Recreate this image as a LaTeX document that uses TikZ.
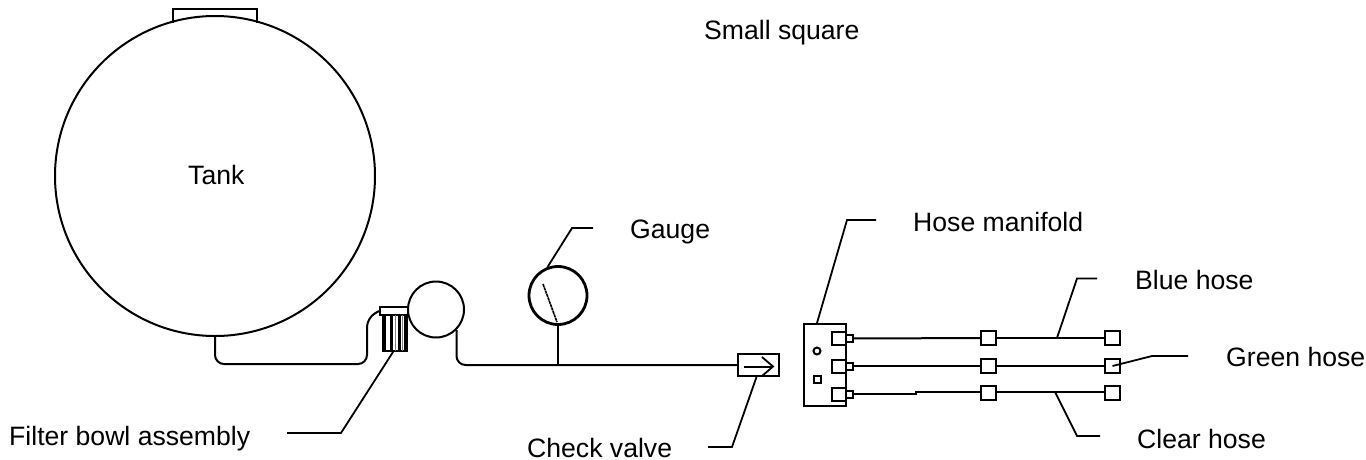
\documentclass[tikz,border=0pt]{standalone}
\usepackage{fontspec}
\setmainfont{Liberation Sans}
\usetikzlibrary{positioning,calc}

\begin{document}
\begin{tikzpicture}[x=1pt,y=-1pt,font=\fontsize{26.6}{30}\selectfont,
part/.style={draw,line width=2pt,inner sep=0pt,fill=white},
sq/.style={part,minimum width=15pt,minimum height=14pt},
pipe/.style={line width=2pt,rounded corners=9pt},
lead/.style={line width=1.8pt,line join=miter},
lbl/.style={inner sep=0pt,anchor=base west}]
\useasboundingbox (0,0) rectangle (1366,459);
% tank and pump side
\node[part,circle,minimum size=320pt] (tank) at (215,176) {};
\draw[line width=2pt] (173,23)--(173,9)--(257,9)--(257,23);
\node[part,circle,minimum size=56pt] (pump) at (436,309.5) {};
\node[part,minimum width=24pt,minimum height=36pt] (filter) at (395,333) {};
\node[part,minimum width=28pt,minimum height=8pt] (filtercap) at (394,311) {};
\foreach \x/\w/\c in {384.5/2.5/black,391.5/3/black,395.5/1.5/gray,399/3/black,402.5/1.5/gray,405.5/2.5/black}
  \draw[line width=\w pt,\c] (\x,315)--(\x,351);
\node[draw,line width=2.8pt,circle,minimum size=58pt,inner sep=0pt] (gauge) at (558,295.5) {};
\node[part,minimum width=41pt,minimum height=22pt] (valve) at (758.5,365) {};
\coordinate (tip) at (773,366.5);
\draw[line width=2pt] (744,366.5)--(tip);
\draw[line width=1.8pt] (762,357)--(tip)--(762,376);
\draw[line width=1.6pt,dash pattern=on 3pt off 0.6pt] (543,284)--(557,322);
% pipes
\draw[pipe] (tank.south)--(215,364)--(367,364)--(367,318)--(filtercap.west);
\draw[pipe] (pump.-45) |- (valve.west);
\draw[line width=2pt] (gauge.south)--(gauge.south |- valve.west);
% manifold
\node[part,minimum width=42pt,minimum height=82pt] (manifold) at (825,365) {};
\node[part,circle,minimum size=7pt] (mdot) at (817,351) {};
\node[part,minimum size=7pt] (msq) at (817,379) {};
\foreach \r/\y/\yy in {a/338.5/338,b/366/366,c/394/393}{
  \node[part,minimum width=14pt,minimum height=13pt] (port\r) at (839,\y) {};
  \node[part,minimum width=7pt,minimum height=7pt] (nub\r) at (849.5,\y) {};
  \node[sq] (mid\r) at (988.5,\yy) {};
  \node[sq] (end\r) at (1112.5,\yy) {};
}
\draw[pipe,rounded corners=0pt] (nuba)--(mida);
\draw[pipe] (mida)--(enda);
\draw[pipe,rounded corners=0pt] (nubb)--(midb);
\draw[pipe] (midb)--(endb);
\draw[pipe,rounded corners=0pt] (nubc)--(915.5,394)--(915.5,392)--(midc.west |- 915.5,392);
\draw[pipe] (midc.east |- 915.5,392)--(endc.west |- 915.5,392);
% labels
\node[lbl] (ltank) at (188,184) {Tank};
\node[lbl] (lsquare) at (704,39) {Small square};
\node[lbl] (lgauge) at (630,238) {Gauge};
\node[lbl] (lmani) at (913,231) {Hose manifold};
\node[lbl] (lblue) at (1135,289.5) {Blue hose};
\node[lbl] (lgreen) at (1226,366.5) {Green hose};
\node[lbl] (lclear) at (1137,448) {Clear hose};
\node[lbl] (lfilter) at (9,445) {Filter bowl assembly};
\node[lbl] (lcheck) at (527,457) {Check valve};
% leaders
\coordinate (kfilter) at (341,433);
\coordinate (ffilter) at (287,433);
\draw[lead] ($(filter.south)+(-2,0)$)--(kfilter)--(ffilter);
\coordinate (kcheck) at (732,447);
\coordinate (fcheck) at (708,447);
\draw[lead] ($(valve.south)+(-2,0)$)--(kcheck)--(fcheck);
\coordinate (kgauge) at (572,228);
\coordinate (fgauge) at (593,228);
\draw[lead] (gauge.110)--(kgauge)--(fgauge);
\coordinate (kmani) at (847,220);
\coordinate (fmani) at (876,220);
\draw[lead] ($(manifold.north)+(-8,0)$)--(kmani)--(fmani);
\coordinate (hblue) at (1057,338);
\coordinate (kblue) at (1077,278.5);
\coordinate (fblue) at (1097,278.5);
\draw[lead] (hblue)--(kblue)--(fblue);
\coordinate (kgreen) at (1152,356);
\coordinate (fgreen) at (1188,356);
\draw[lead] (endb.center)--(kgreen)--(fgreen);
\coordinate (hclear) at (1055,392);
\coordinate (kclear) at (1077,436);
\coordinate (fclear) at (1100,436);
\draw[lead] (hclear)--(kclear)--(fclear);
\end{tikzpicture}
\end{document}
